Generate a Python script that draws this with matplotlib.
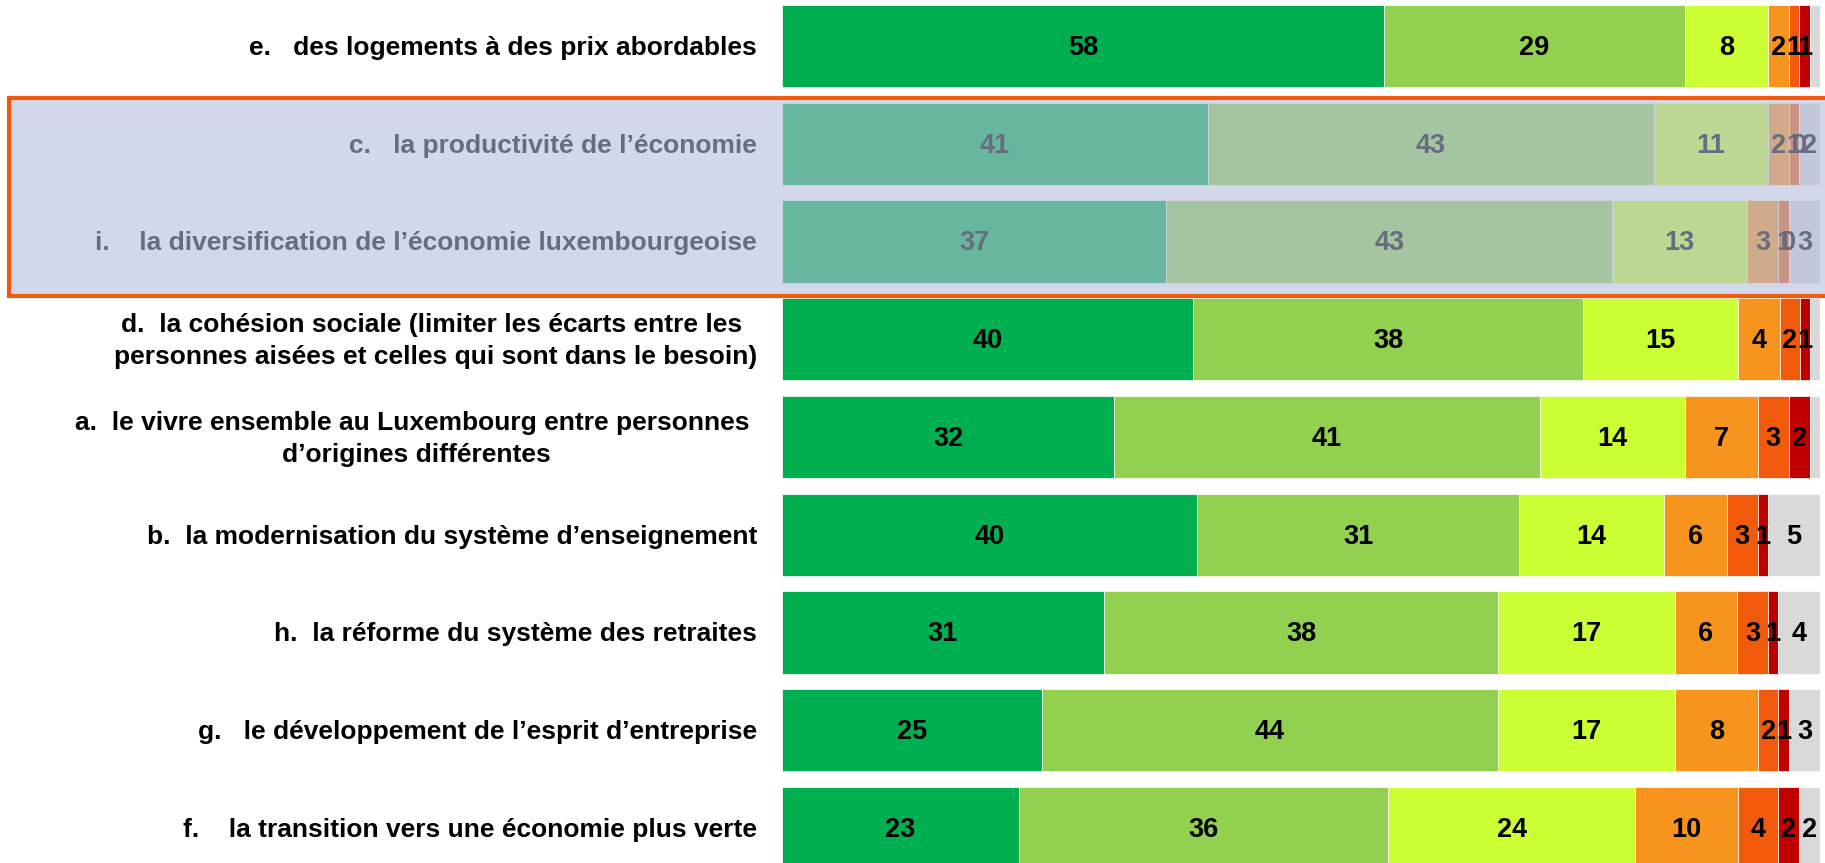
import matplotlib
matplotlib.use("Agg")
import matplotlib.pyplot as plt
from matplotlib.patches import Rectangle

plt.rcParams['font.family'] = ['Liberation Sans', 'DejaVu Sans']

categories = [
    "e.   des logements à des prix abordables",
    "c.   la productivité de l’économie",
    "i.    la diversification de l’économie luxembourgeoise",
    "d.  la cohésion sociale (limiter les écarts entre les \npersonnes aisées et celles qui sont dans le besoin)",
    "a.  le vivre ensemble au Luxembourg entre personnes \nd’origines différentes",
    "b.  la modernisation du système d’enseignement",
    "h.  la réforme du système des retraites",
    "g.   le développement de l’esprit d’entreprise",
    "f.    la transition vers une économie plus verte",
]

s1 = [58, 41, 37, 39.6, 32, 40, 31, 25, 22.8]
s2 = [29, 43, 43, 37.6, 41, 31, 38, 44, 35.6]
s3 = [8, 11, 13, 14.9, 14, 14, 17, 17, 23.8]
s4 = [2, 2, 3, 4.0, 7, 6, 6, 8, 9.9]
s5 = [1, 1, 1, 2.0, 3, 3, 3, 2, 3.9]
s6 = [1, 0, 0, 0.9, 2, 1, 1, 1, 2.0]
s7 = [1, 2, 3, 1.0, 1, 5, 4, 3, 2.0]
s7_labels = ["", "2", "3", "", "", "5", "4", "3", "2"]

series = [s1, s2, s3, s4, s5, s6, s7]
colors = ['#00B050', '#92D050', '#CCFF33', '#F7941D', '#F05A0A', '#C00000', '#D9D9D9']

W, H = 1825, 863
fig = plt.figure(figsize=(W / 100, H / 100), dpi=100)
x0, x1 = 782, 1820
ax = fig.add_axes([x0 / W, 0, (x1 - x0) / W, 1])

spacing = 97.75
top = 46
ax.set_ylim((H - top) / spacing, -top / spacing)
ax.set_xlim(0, 100)

y = list(range(len(categories)))
left = [0.0] * len(categories)
for k, (vals, col) in enumerate(zip(series, colors)):
    ax.barh(y, vals, left=left, height=0.84, color=col, edgecolor='white', linewidth=0.5)
    for i, v in enumerate(vals):
        cx = left[i] + v / 2
        if k == 6:
            lab = s7_labels[i]
        else:
            lab = f"{round(v):.0f}"
        if lab:
            ax.text(cx, i + 0.02, lab, ha='center', va='center', fontsize=19.5,
                    fontweight='bold', color='black')
    left = [l + v for l, v in zip(left, vals)]

for i, cat in enumerate(categories):
    ax.text(-2.4, i + 0.02, cat, ha='right', va='center', fontsize=19, fontweight='bold',
            multialignment='center', linespacing=1.45, color='black')

ax.axis('off')

# highlight box (overlay)
bx0, bx1 = 9, 1835
by_top, by_bot = 98, 296
rect = Rectangle((bx0 / W, (H - by_bot) / H), (bx1 - bx0) / W, (by_bot - by_top) / H,
                 transform=fig.transFigure, facecolor=(179/255, 188/255, 219/255, 0.58),
                 edgecolor='#F05A0A', linewidth=3, zorder=10, clip_on=False)
fig.add_artist(rect)

fig.savefig('out.png', dpi=100)
